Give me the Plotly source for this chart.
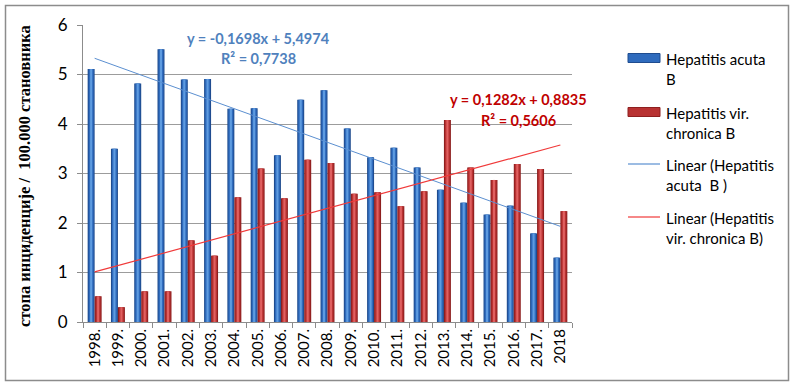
import plotly.graph_objects as go

years = ["1998.", "1999.", "2000.", "2001.", "2002.", "2003.", "2004.", "2005.", "2006.", "2007.",
         "2008.", "2009.", "2010.", "2011.", "2012.", "2013.", "2014.", "2015.", "2016.", "2017.", "2018"]
acute = [5.11, 3.50, 4.82, 5.51, 4.90, 4.91, 4.31, 4.32, 3.37, 4.49,
         4.68, 3.91, 3.33, 3.52, 3.12, 2.67, 2.41, 2.17, 2.35, 1.79, 1.30]
chronic = [0.52, 0.30, 0.62, 0.62, 1.65, 1.34, 2.52, 3.10, 2.50, 3.28,
           3.21, 2.59, 2.62, 2.34, 2.64, 4.08, 3.12, 2.87, 3.19, 3.09, 2.24]
acute_name = "Hepatitis acuta<br>B"
chronic_name = "Hepatitis vir.<br>chronica B"
acute_trend_name = "Linear (Hepatitis<br>acuta  B )"
chronic_trend_name = "Linear (Hepatitis<br>vir. chronica B)"
acute_slope, acute_intercept, acute_r2 = -0.1698, 5.4974, 0.7738
chronic_slope, chronic_intercept, chronic_r2 = 0.1282, 0.8835, 0.5606
y_title = "стопа инциденције /  100.000 становника"

W, H = 794, 389
ML, MR, MT, MB = 83, 222, 25, 67
PW, PH = W - ML - MR, H - MT - MB


def px(x):
    return (x - ML) / PW


def py(y):
    return (H - MB - y) / PH


fig = go.Figure()

BW = 0.30
blue_layers = [(BW, "#1f4c8f"), (0.21, "#2f6bbd"), (0.09, "#5e9be0")]
red_layers = [(BW, "#8e1f1f"), (0.21, "#b83232"), (0.09, "#e06060")]
for vals, center, layers in [(acute, -BW / 2, blue_layers), (chronic, BW / 2, red_layers)]:
    for w, col in layers:
        fig.add_trace(go.Bar(x=years, y=vals, width=w, offset=center - w / 2,
                             marker=dict(color=col, line=dict(width=0)),
                             showlegend=False, hoverinfo="skip"))

xs = list(range(1, len(years) + 1))
fig.add_trace(go.Scatter(x=years, y=[acute_slope * x + acute_intercept for x in xs], mode="lines",
                         line=dict(color="#5b8fd0", width=1), showlegend=False))
fig.add_trace(go.Scatter(x=years, y=[chronic_slope * x + chronic_intercept for x in xs], mode="lines",
                         line=dict(color="#f03a3a", width=1.2), showlegend=False))


def fmt(v):
    return f"{abs(v):.4f}".replace(".", ",")


eq_font = "Lato"
annotations = [
    dict(x=px(258), y=py(38), text=f"y = {'-' if acute_slope < 0 else ''}{fmt(acute_slope)}x + {fmt(acute_intercept)}",
         font=dict(color="#4f81bd", size=14.5, family=eq_font)),
    dict(x=px(258), y=py(58), text=f"R² = {fmt(acute_r2)}", font=dict(color="#4f81bd", size=14.5, family=eq_font)),
    dict(x=px(518), y=py(100), text=f"y = {fmt(chronic_slope)}x + {fmt(chronic_intercept)}",
         font=dict(color="#c00000", size=14.5, family=eq_font)),
    dict(x=px(518), y=py(120), text=f"R² = {fmt(chronic_r2)}", font=dict(color="#c00000", size=14.5, family=eq_font)),
    dict(x=px(24), y=py(176), text=f"<b>{y_title}</b>", textangle=-90,
         font=dict(color="#000000", size=16.5, family="Liberation Serif")),
]
for a in annotations[:4]:
    a["text"] = f"<b>{a['text']}</b>"
for a in annotations:
    a.update(xref="paper", yref="paper", showarrow=False, xanchor="center", yanchor="middle")

legend_items = [(acute_name, "bar", "#2f6bbd", 58), (chronic_name, "bar", "#b83232", 112),
                (acute_trend_name, "line", "#5b8fd0", 164), (chronic_trend_name, "line", "#f03a3a", 217)]
shapes = []
for name, kind, col, yc in legend_items:
    if kind == "bar":
        dark = "#1f4c8f" if col == "#2f6bbd" else "#8e1f1f"
        shapes.append(dict(type="rect", xref="paper", yref="paper", x0=px(628), x1=px(660),
                           y0=py(yc + 4.5), y1=py(yc - 4.5), fillcolor=col, line=dict(color=dark, width=1)))
    else:
        shapes.append(dict(type="line", xref="paper", yref="paper", x0=px(628), x1=px(660),
                           y0=py(yc), y1=py(yc), line=dict(color=col, width=1.2)))
    annotations.append(dict(xref="paper", yref="paper", x=px(664), y=py(yc - 10), text=name,
                            showarrow=False, xanchor="left", yanchor="top", align="left",
                            font=dict(size=15, family="Lato", color="#000000")))

shapes.append(dict(type="rect", xref="paper", yref="paper", x0=px(5.5), x1=px(788.5),
                   y0=py(380.5), y1=py(5.5), line=dict(color="#8c8c8c", width=1.5), layer="below"))

fig.update_layout(
    width=W, height=H, margin=dict(l=ML, r=MR, t=MT, b=MB),
    paper_bgcolor="white", plot_bgcolor="white",
    barmode="overlay", showlegend=False,
    annotations=annotations, shapes=shapes,
    font=dict(family="Lato", color="#000000"),
)
fig.update_xaxes(type="category", range=[-0.5, len(years) - 0.5], tickson="boundaries",
                 ticks="outside", ticklen=5, tickcolor="#8c8c8c", tickangle=-90,
                 showline=True, linecolor="#8c8c8c", linewidth=1, showgrid=False,
                 tickfont=dict(size=15, family="Lato", color="#000000"))
fig.update_yaxes(range=[0, 6], dtick=1, ticks="outside", ticklen=5, tickcolor="#8c8c8c",
                 showline=True, linecolor="#8c8c8c", linewidth=1, showgrid=True,
                 gridcolor="#9c9c9c", gridwidth=1, zeroline=False,
                 tickfont=dict(size=17, family="Lato", color="#000000"), ticklabelstandoff=6)

fig.write_html("out.html", config={"displayModeBar": False},
               post_script="document.body.style.margin='0px';document.body.style.overflow='hidden';")
